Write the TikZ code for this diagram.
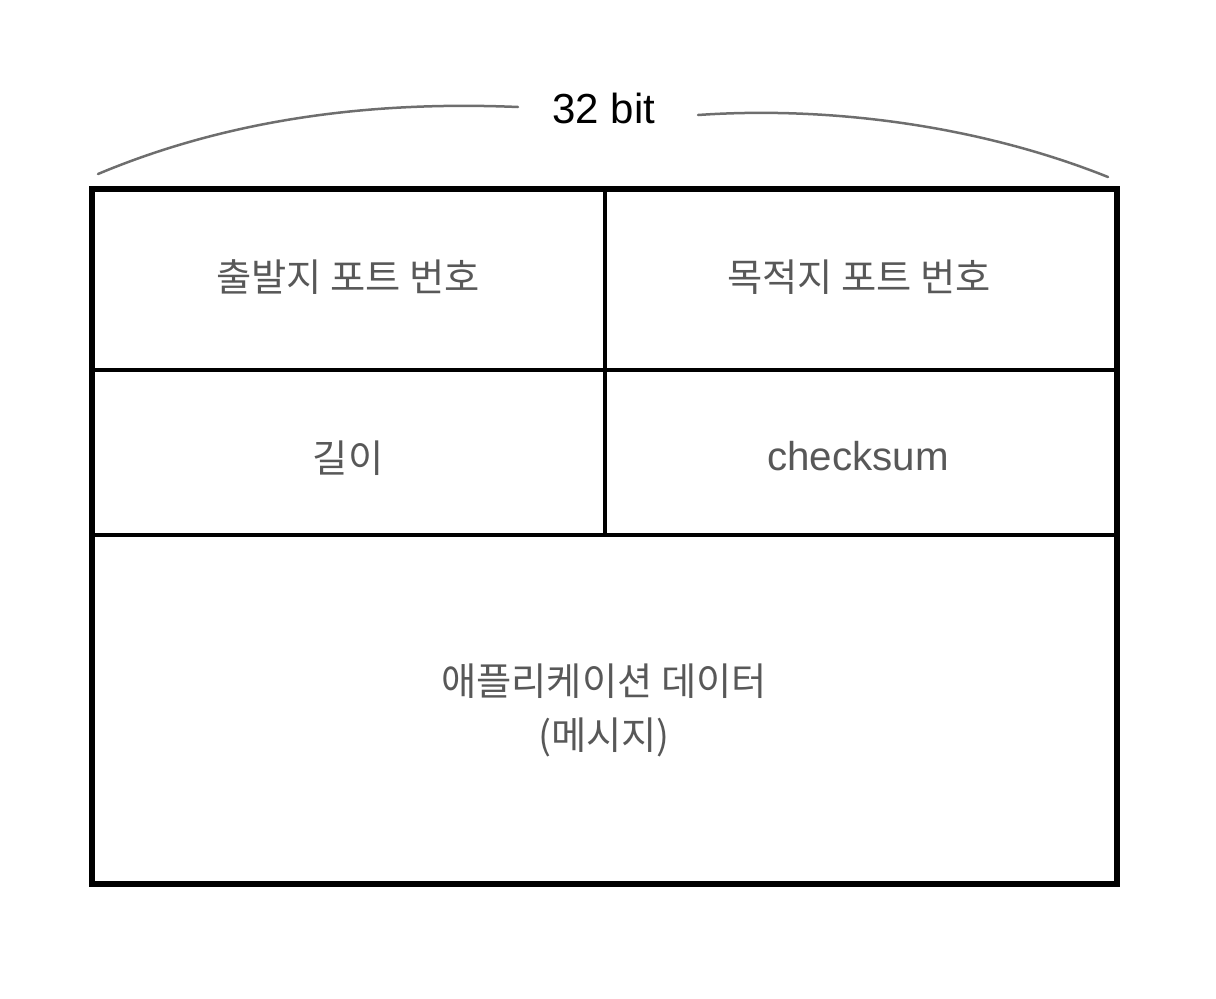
\documentclass[tikz,border=0pt]{standalone}
\usepackage{fontspec}
\setmainfont{Liberation Sans}
\newfontfamily\krfont{Noto Sans CJK KR}
\newfontfamily\latinfont{Liberation Sans}
\definecolor{txtgray}{HTML}{585858}
\definecolor{arcgray}{HTML}{6E6E6E}
\tikzset{
  outerline/.style={line width=6pt, line cap=rect},
  innerline/.style={line width=4pt},
  arcline/.style={draw=arcgray, line width=2.5pt, line cap=round},
  krlabel/.style={text=txtgray, font=\krfont\fontsize{38.3}{54}\selectfont, align=center, inner sep=0pt},
  enlabel/.style={text=txtgray, font=\latinfont\fontsize{40.3}{48}\selectfont, inner sep=0pt},
  titlelabel/.style={text=black, font=\latinfont\fontsize{42}{50}\selectfont, inner sep=0pt}
}
\begin{document}
\begin{tikzpicture}[x=1pt, y=-1pt]
\useasboundingbox (0,0) rectangle (1216,999);
% frame coordinates
\coordinate (tl) at (91.5,189);
\coordinate (br) at (1116.5,884);
\coordinate (vtop) at (605,189);
\coordinate (vbot) at (605,535);
\coordinate (h1l) at (91.5,370);
\coordinate (h1r) at (1116.5,370);
\coordinate (h2l) at (91.5,535);
\coordinate (h2r) at (1116.5,535);
% inner lines
\draw[innerline] (vtop) -- (vbot);
\draw[innerline] (h1l) -- (h1r);
\draw[innerline] (h2l) -- (h2r);
% outer frame
\draw[outerline] (tl) rectangle (br);
% arc
\coordinate (a1) at (98,174);
\coordinate (a2) at (518,107);
\coordinate (a3) at (698,115);
\coordinate (a4) at (1108,177);
\draw[arcline] (a1) .. controls (248,111) and (400,102) .. (a2);
\draw[arcline] (a3) .. controls (828,106) and (978,125) .. (a4);
\node[titlelabel] (title) at (604,108) {32 bit};
% labels
\node[krlabel] (src) at (348,277) {출발지 포트 번호};
\node[krlabel] (dst) at (859,277) {목적지 포트 번호};
\node[krlabel] (len) at (348,458) {길이};
\node[enlabel] (chk) at (858,456) {checksum};
\node[krlabel] (data) at (604,710) {애플리케이션 데이터\\(메시지)};
\end{tikzpicture}
\end{document}
